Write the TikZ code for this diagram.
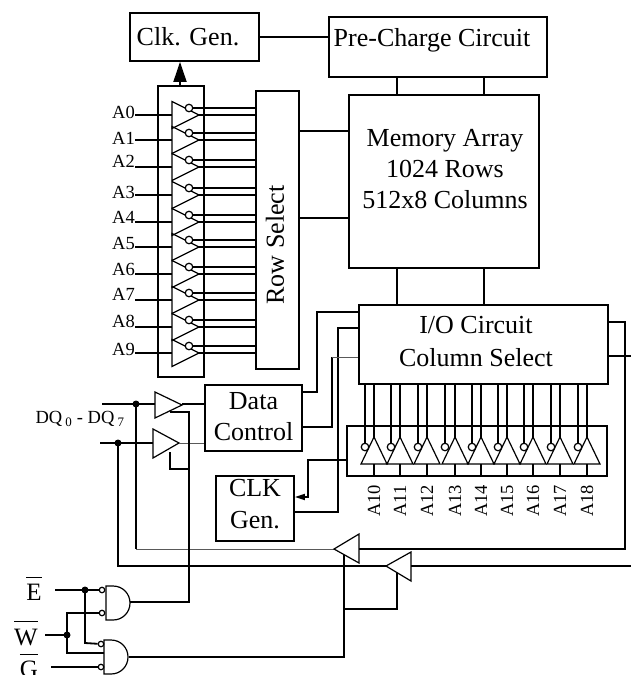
\documentclass[tikz,border=0pt]{standalone}
\usepackage{fontspec}
\setmainfont{Liberation Serif}
\usetikzlibrary{arrows.meta}
\tikzset{
  wire/.style={line width=1.8pt,line join=miter},
  thinwire/.style={line width=1pt,black!65},
  gateline/.style={line width=1.2pt,line join=miter},
  blockbox/.style={draw,line width=1.8pt,inner sep=0pt,minimum width=#1},
  boxtext/.style={font=\fontsize{26}{32}\selectfont,align=center,inner sep=0pt},
  pinlabel/.style={font=\fontsize{18.5}{20}\selectfont,inner sep=0pt},
  barlabel/.style={font=\fontsize{25}{28}\selectfont,inner sep=0pt},
  bubble/.style={draw,fill=white,circle,line width=1.2pt,inner sep=0pt,minimum size=#1},
}
\newcommand{\barred}[1]{\(\overline{\vphantom{\mbox{\rule{0pt}{22.5pt}}}\mbox{#1}}\)}
\begin{document}
\begin{tikzpicture}[x=1pt,y=-1pt]
\useasboundingbox (0,0) rectangle (631,675);
% blocks
\node[blockbox=129,minimum height=48] (clkgen) at (194.5,37) {};
\node[boxtext] (clkgentext) at (188,37) {Clk. Gen.};
\node[blockbox=218,minimum height=60] (precharge) at (438,47) {};
\node[boxtext] (prechargetext) at (432,40) {Pre-Charge Circuit};
\node[blockbox=190,minimum height=173] (memarray) at (444,181.5) {};
\node[boxtext,execute at begin node=\setlength{\baselineskip}{31pt}] (memtext) at (445,169) {Memory Array\\1024 Rows\\512x8 Columns};
\node[blockbox=46,minimum height=291] (rowbuf) at (181,231.5) {};
\node[blockbox=43,minimum height=278] (rowsel) at (277.5,230) {};
\node[boxtext,rotate=90] (rowseltext) at (275,245) {Row Select};
\node[blockbox=249,minimum height=79] (iocircuit) at (483.5,344.5) {};
\node[boxtext,execute at begin node=\setlength{\baselineskip}{33pt}] (iotext) at (476,342) {I/O Circuit\\Column Select};
\node[blockbox=260,minimum height=50] (colbuf) at (477,451) {};
\node[blockbox=97,minimum height=66] (datactl) at (253.5,418) {};
\node[boxtext,execute at begin node=\setlength{\baselineskip}{31pt}] (datatext) at (253.5,417) {Data\\Control};
\node[blockbox=78,minimum height=65] (clkgenb) at (255,508.5) {};
\node[boxtext,execute at begin node=\setlength{\baselineskip}{32pt}] (clkbtext) at (255,504) {CLK\\Gen.};

% links between blocks
\draw[wire] (clkgen.east) -- (clkgen.east -| precharge.west);
\draw[wire,-{Triangle[length=20pt,width=13pt]}] (180,0 |- rowbuf.north) -- (180,0 |- clkgen.south);
\draw[wire] (397,0 |- precharge.south) -- (397,0 |- memarray.north);
\draw[wire] (484,0 |- precharge.south) -- (484,0 |- memarray.north);
\draw[wire] (rowsel.east |- 0,131) -- (memarray.west |- 0,131);
\draw[wire] (rowsel.east |- 0,218) -- (memarray.west |- 0,218);
\draw[wire] (397,0 |- memarray.south) -- (397,0 |- iocircuit.north);
\draw[wire] (484,0 |- memarray.south) -- (484,0 |- iocircuit.north);

% row address buffers
\foreach \n/\ly/\y in {0/112/115,1/138/140,2/161/167,3/192/195,4/217/222,5/243/247,6/269/274,7/294/300,8/321/327,9/349/353}{
  \node[pinlabel,anchor=east] (lblA\n) at (135,\ly) {A\n};
  \draw[gateline] (172,\y-13.5) -- (199,\y) -- (172,\y+13.5) -- cycle;
  \draw[wire] (lblA\n.east |- 0,\y) -- (172,\y);
  \draw[wire] (199,\y) -- (rowsel.west |- 0,\y);
  \draw[wire] (193,\y-7) -- (rowsel.west |- 0,\y-7);
  \node[bubble=7.5pt] (bubA\n) at (189,\y-7) {};
}

% column address buffers
\foreach \n/\bx/\ax in {10/365/374,11/391/400,12/418/427,13/445/455,14/472/481,15/498/507,16/524/533,17/551/560,18/578/587}{
  \draw[gateline] (\ax-13,464) -- (\ax,437) -- (\ax+13,464) -- cycle;
  \draw[wire] (\ax,384) -- (\ax,437);
  \draw[wire] (\bx,384) -- (\bx,443);
  \node[bubble=7.5pt] (bubA\n) at (\bx,447) {};
  \draw[wire] (\ax,464) -- (\ax,476);
  \node[pinlabel,rotate=90] (lblA\n) at (\ax,501) {A\n};
}

% data path
\node[pinlabel] (dqlabel) at (80,419) {DQ\,\textsubscript{0} - DQ\,\textsubscript{7}};
\draw[gateline] (155,392) -- (182,405) -- (155,418) -- cycle;
\draw[gateline] (153,429) -- (179,443) -- (153,458) -- cycle;
\coordinate (dqa) at (136,404);
\coordinate (dqb) at (118,443);
\draw[wire] (102,404) -- (155,404);
\draw[wire] (100,443) -- (153,443);
\fill (dqa) circle (3.5);
\fill (dqb) circle (3.5);
\draw[wire] (182,404) -- (datactl.west |- 0,404);
\draw[thinwire] (179,443) -- (datactl.west |- 0,443);
\draw[wire] (dqa) -- (136,549);
\draw[thinwire] (136,549) -- (334,549);
\draw[wire] (dqb) -- (118,566) -- (386,566);

\draw[wire] (datactl.east |- 0,392) -- (317,392) -- (317,312) -- (iocircuit.west |- 0,312);
\draw[wire] (clkgenb.east |- 0,512) -- (338,512) -- (338,328) -- (iocircuit.west |- 0,328);
\draw[wire] (datactl.east |- 0,427) -- (332,427) -- (332,357);
\draw[thinwire] (332,357) -- (iocircuit.west |- 0,357);
\draw[wire,-{Triangle[length=10pt,width=6pt]}] (colbuf.west |- 0,460) -- (308,460) -- (308,497) -- (clkgenb.east |- 0,497);

% return path on the right
\draw[wire] (iocircuit.east |- 0,322) -- (625,322) -- (625,549) -- (359,549);
\draw[wire] (iocircuit.east |- 0,356) -- (631,356);
\draw[wire] (631,566) -- (411,566);
\draw[gateline] (334,549) -- (359,534) -- (359,563) -- cycle;
\draw[gateline] (386,566) -- (411,552) -- (411,581) -- cycle;

% gates
\foreach \gx/\gy in {106/603,104/657}{
  \draw[gateline] (\gx,\gy-17) -- (\gx+7,\gy-17) .. controls (\gx+17,\gy-17) and (\gx+24,\gy-9) .. (\gx+24,\gy) .. controls (\gx+24,\gy+9) and (\gx+17,\gy+17) .. (\gx+7,\gy+17) -- (\gx,\gy+17) -- cycle;
}
\node[bubble=5.5pt] (ebub) at (102,590) {};
\node[bubble=5.5pt] (wbub) at (102,613) {};
\node[bubble=5.5pt] (ebubb) at (101,644) {};
\node[bubble=5.5pt] (gbub) at (101,667) {};
\node[barlabel] (elabel) at (34,588.5) {\barred{E}};
\node[barlabel] (wlabel) at (26,633.5) {\barred{W}};
\node[barlabel] (glabel) at (29,665.5) {\barred{G}};
\coordinate (edot) at (85,590);
\coordinate (wdot) at (67,635);
\draw[wire] (55,590) -- (ebub);
\draw[wire] (edot) -- (85,643) -- (ebubb);
\draw[wire] (45,635) -- (wdot);
\draw[wire] (wbub) -- (67,613) -- (67,653) -- (104,653);
\draw[wire] (51,667) -- (gbub);
\fill (edot) circle (3.5);
\fill (wdot) circle (3.5);

% enables
\draw[wire] (130,602) -- (189,602) -- (189,412) -- (170,412);
\draw[wire] (170,452) -- (170,469) -- (189,469);
\draw[wire] (129,657) -- (344,657) -- (344,555);
\draw[wire] (344,609) -- (397,609) -- (397,573);
\end{tikzpicture}
\end{document}
